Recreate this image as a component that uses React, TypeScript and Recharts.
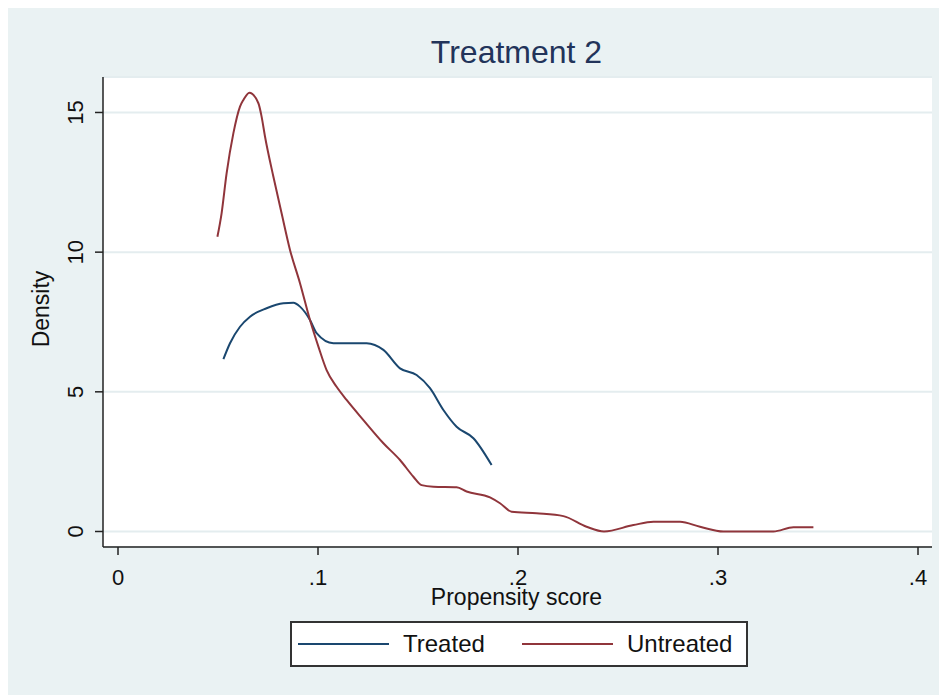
import { LineChart, Line, XAxis, YAxis, CartesianGrid, Label } from "recharts";

// kernel density estimates
const treatedX = [
  0.0527, 0.056, 0.061, 0.066, 0.0743, 0.0827, 0.0877, 0.091, 0.096, 0.0993,
  0.1077, 0.1243, 0.1327, 0.141, 0.1493, 0.156, 0.1627, 0.1693, 0.1777, 0.1868,
];
const treatedY = [
  6.17, 6.74, 7.33, 7.69, 7.99, 8.17, 8.19, 8.05, 7.57, 7.1,
  6.74, 6.74, 6.5, 5.84, 5.6, 5.13, 4.35, 3.75, 3.34, 2.38,
];

const untreatedX = [
  0.0497, 0.0518, 0.0543, 0.0577, 0.061, 0.0627, 0.0657, 0.0702, 0.0718, 0.0735,
  0.0777, 0.0818, 0.086, 0.091, 0.096, 0.1002, 0.1043, 0.1093, 0.1143, 0.1227,
  0.1327, 0.141, 0.1477, 0.1518, 0.1577, 0.1693, 0.1743, 0.186, 0.191, 0.1968,
  0.2093, 0.2227, 0.2343, 0.243, 0.2577, 0.2677, 0.281, 0.291, 0.3027, 0.3277,
  0.3377, 0.3477,
];
const untreatedY = [
  10.55, 11.39, 12.82, 14.26, 15.21, 15.45, 15.71, 15.33, 14.85, 14.14,
  12.7, 11.39, 10.08, 8.89, 7.57, 6.62, 5.78, 5.18, 4.71, 3.99,
  3.16, 2.56, 1.96, 1.66, 1.6, 1.58, 1.43, 1.22, 1.01, 0.71,
  0.65, 0.55, 0.17, 0.0, 0.23, 0.35, 0.35, 0.17, 0.0, 0.0,
  0.15, 0.15,
];

const xTicks = [0, 0.1, 0.2, 0.3, 0.4];
const yTicks = [0, 5, 10, 15];

const treated = treatedX.map((x, i) => ({ x, y: treatedY[i] }));
const untreated = untreatedX.map((x, i) => ({ x, y: untreatedY[i] }));

const series = [
  { name: "Treated", color: "#1A476F", data: treated },
  { name: "Untreated", color: "#90353B", data: untreated },
];

const FONT = '"Liberation Sans", Arial, sans-serif';
const BG = "#EAF2F3";

const fmtX = (v: number) => (v === 0 ? "0" : String(v).replace(/^0/, ""));

const XTick = (props: any) => {
  const { x, y, payload } = props;
  return (
    <text x={x} y={y} dy={28} textAnchor="middle" fontSize={22} fontFamily={FONT} fill="#111">
      {fmtX(payload.value)}
    </text>
  );
};

const YTick = (props: any) => {
  const { x, y, payload } = props;
  const bx = x - 10;
  return (
    <text
      x={bx}
      y={y}
      transform={`rotate(-90, ${bx}, ${y})`}
      textAnchor="middle"
      fontSize={22}
      fontFamily={FONT}
      fill="#111"
    >
      {payload.value}
    </text>
  );
};

export default function App() {
  return (
    <div
      style={{
        position: "relative",
        marginLeft: -4,
        width: 943,
        height: 687,
        background: BG,
        fontFamily: FONT,
      }}
    >
      <div
        style={{
          position: "absolute",
          top: 28,
          left: 0,
          width: 1025,
          textAlign: "center",
          fontSize: 32,
          lineHeight: "32px",
          color: "#22345a",
        }}
      >
        Treatment 2
      </div>

      <LineChart
        width={943}
        height={687}
        margin={{ top: 69, right: 15, left: 0, bottom: 88 }}
      >
        <CartesianGrid vertical={false} fill="#fff" stroke="#E4EDEF" strokeWidth={2} />
        <XAxis
          dataKey="x"
          type="number"
          domain={[-0.0075, 0.407]}
          ticks={xTicks}
          allowDataOverflow
          height={60}
          tickSize={8}
          tickMargin={2}
          tick={<XTick />}
          axisLine={{ stroke: "#222", strokeWidth: 1.5 }}
          tickLine={{ stroke: "#222", strokeWidth: 1.5 }}
        >
          <Label
            content={({ viewBox }: any) => (
              <text
                x={viewBox.x + viewBox.width / 2 - 1}
                y={597}
                textAnchor="middle"
                fontSize={23}
                fontFamily={FONT}
                fill="#111"
              >
                Propensity score
              </text>
            )}
          />
        </XAxis>
        <YAxis
          type="number"
          domain={[-0.555, 16.27]}
          ticks={yTicks}
          allowDataOverflow
          width={99}
          tickSize={8}
          tickMargin={2}
          tick={<YTick />}
          axisLine={{ stroke: "#222", strokeWidth: 1.5 }}
          tickLine={{ stroke: "#222", strokeWidth: 1.5 }}
        >
          <Label
            content={() => (
              <text
                x={45}
                y={301}
                transform="rotate(-90, 45, 301)"
                textAnchor="middle"
                fontSize={23}
                fontFamily={FONT}
                fill="#111"
              >
                Density
              </text>
            )}
          />
        </YAxis>
        {series.map((s) => (
          <Line
            key={s.name}
            data={s.data}
            dataKey="y"
            name={s.name}
            type="monotone"
            stroke={s.color}
            strokeWidth={2}
            dot={false}
            activeDot={false}
            isAnimationActive={false}
          />
        ))}
      </LineChart>

      <div
        style={{
          position: "absolute",
          left: 286,
          top: 613,
          width: 454,
          height: 42,
          background: "#fff",
          border: "2px solid #333",
          boxSizing: "content-box",
        }}
      >
        {series.map((s, i) => (
          <div
            key={s.name}
            style={{
              position: "absolute",
              left: i === 0 ? 6 : 230,
              top: 0,
              height: 42,
              display: "flex",
              alignItems: "center",
            }}
          >
            <span
              style={{
                display: "inline-block",
                width: 91,
                height: 0,
                borderTop: `2.5px solid ${s.color}`,
                marginRight: 14,
              }}
            />
            <span style={{ fontSize: 24, color: "#111" }}>{s.name}</span>
          </div>
        ))}
      </div>
    </div>
  );
}
